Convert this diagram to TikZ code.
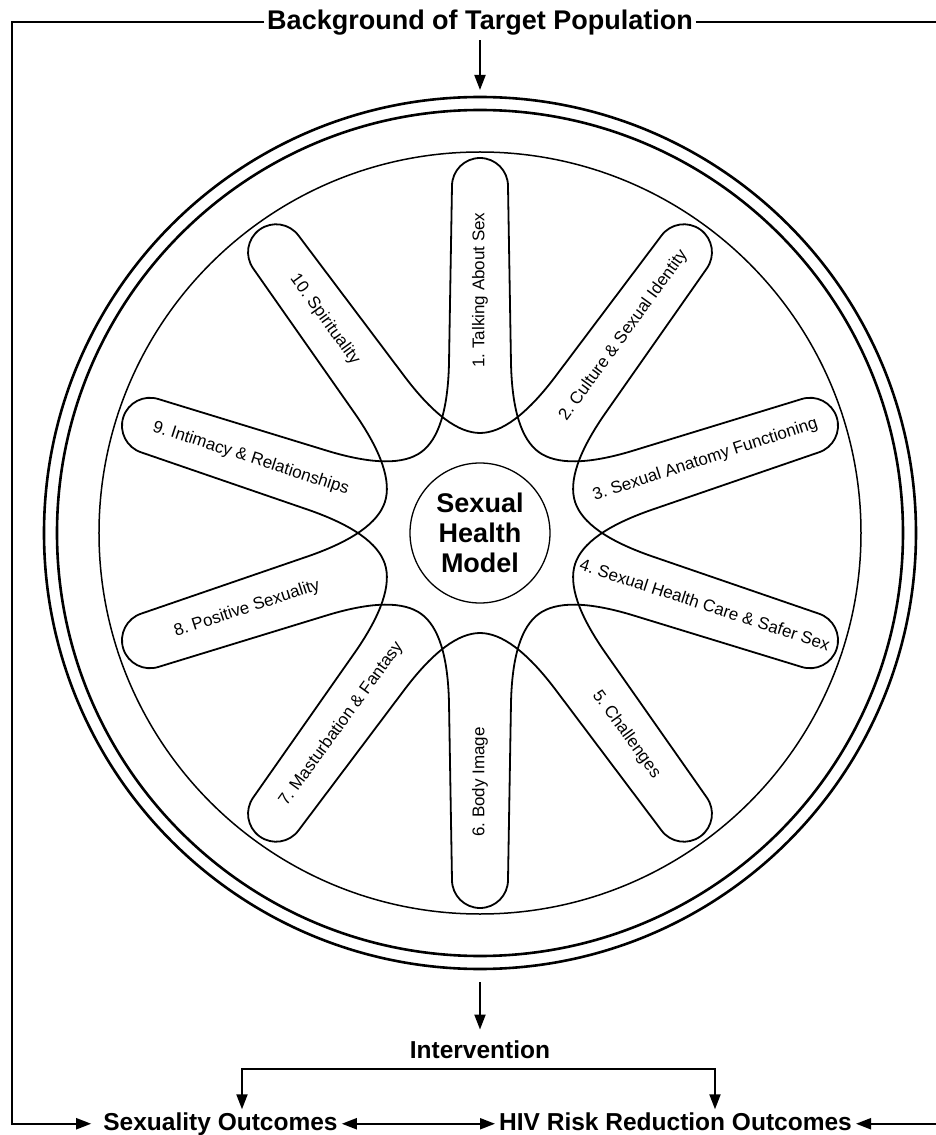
\documentclass[tikz,border=0pt]{standalone}
\usepackage{fontspec}
\setmainfont{Liberation Sans}
\usetikzlibrary{arrows.meta}
\frenchspacing
\begin{document}
\begin{tikzpicture}[x=1pt,y=1pt,
  petal/.style={line width=1.8pt, line cap=round},
  lbl/.style={font=\frenchspacing\fontsize{17}{20}\selectfont, inner sep=0pt, text height=12.5pt, text depth=3.5pt},
  head/.style={font=\bfseries\fontsize{24.5}{28}\selectfont, inner sep=3pt},
  titlestyle/.style={font=\bfseries\fontsize{27}{30}\selectfont, inner sep=3pt, text height=19.7pt, text depth=3pt},
  outc/.style={head, text height=17.5pt, text depth=5pt, inner xsep=4pt},
  arr/.style={line width=2pt, -{Triangle[length=15pt,width=11pt]}},
  dbl/.style={line width=2pt, {Triangle[length=15pt,width=11pt]}-{Triangle[length=15pt,width=11pt]}},
  frame/.style={line width=2pt}
]
\useasboundingbox (-480,-602) rectangle (455,533);

% title and wheel
\node[titlestyle, anchor=base] (title) at (0,503) {Background of Target Population};
\node[circle, draw, line width=2.6pt, minimum size=872pt, inner sep=0pt, outer sep=0pt] (wheel) at (0,0) {};
\draw[line width=2.6pt] (0,0) circle[radius=423pt];
\draw[line width=1.5pt] (0,0) circle[radius=381pt];

% petals (two interleaved five-lobed curves)
\foreach \a in {90,54,18,-18,-54,-90,-126,-162,162,126}{
  \draw[petal, rotate=\a-90] (-58.8,80.9) .. controls (-41.3,93.6) and (-32,123.3) .. (-31,170)
     -- (-28,347) arc[start angle=180, end angle=0, radius=28pt]
     -- (31,170) .. controls (32,123.3) and (41.3,93.6) .. (58.8,80.9);
}

% petal labels
\foreach \a/\r/\t/\s [count=\i] in {
  90/243/90/1. Talking About Sex,
  54/244/54/2. Culture \& Sexual Identity,
  18/237/18/3. Sexual Anatomy Functioning,
  -18/236/-18/4. Sexual Health Care \& Safer Sex,
  -54/249/-54/5. Challenges,
  -90/249/90/6. Body Image,
  -126/236/54/7. Masturbation \& Fantasy,
  -162/245/18/8. Positive Sexuality,
  162/241/-18/9. Intimacy \& Relationships,
  126/264/-54/10. Spirituality}{
  \node[lbl, rotate=\t] (p\i) at (\a:\r) {\s};
}

% center
\node[circle, draw, line width=1.3pt, minimum size=140pt, inner sep=0pt, align=center,
      font=\bfseries\fontsize{27}{30}\selectfont] (shm) at (0,0) {Sexual\\Health\\Model};

% bottom part
\node[head, anchor=base] (iv) at (0,-525) {Intervention};
\node[outc, anchor=base] (so) at (-259.5,-597) {Sexuality Outcomes};
\node[outc, anchor=base] (hiv) at (195.5,-597) {HIV Risk Reduction Outcomes};

\coordinate (lc) at (-468,0);
\coordinate (rc) at (470,0);
\coordinate (bl) at (-238,-536);
\coordinate (br) at (235,-536);

\draw[arr, shorten <=4pt, shorten >=7pt] (title) -- (wheel);
\draw[arr, shorten <=13pt, shorten >=7.5pt] (wheel) -- (iv);
\draw[dbl] (bl |- so.north) -- (bl) -- (br) -- (br |- hiv.north);
\draw[dbl] (so) -- (hiv);
\draw[arr, shorten >=8pt] (title.west) -| (lc) |- (so.west);
\draw[arr] (title.east) -| (rc) |- (hiv.east);
\end{tikzpicture}
\end{document}
